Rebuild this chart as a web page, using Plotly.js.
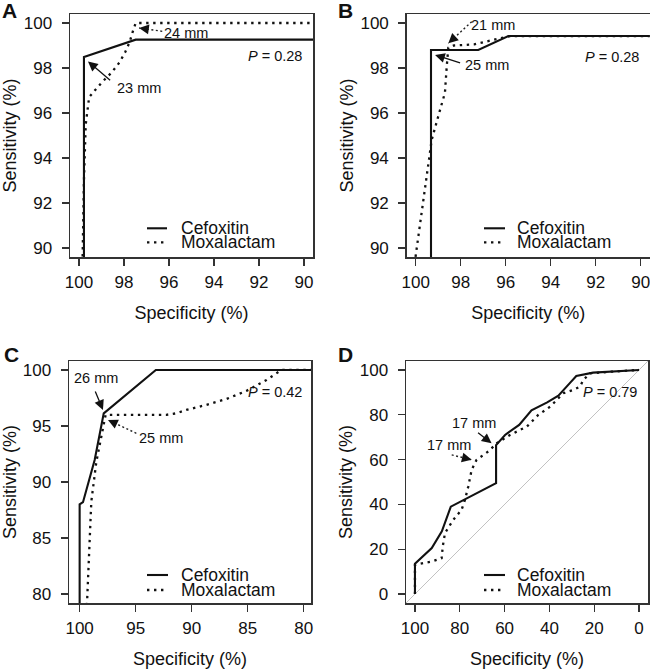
<!DOCTYPE html>
<html>
<head>
<meta charset="utf-8">
<script src="https://cdn.plot.ly/plotly-3.0.1.min.js"></script>
<style>html,body{margin:0;padding:0;background:#fff;}#chart{width:650px;height:671px;}</style>
</head>
<body>
<div id="chart"></div>
<script>
// ---------------- data ----------------
const seriesNames = ['Cefoxitin', 'Moxalactam'];
const panelLetters = ['A', 'B', 'C', 'D'];
const pValues = ['0.28', '0.28', '0.42', '0.79'];

const ticksAB = [90, 92, 94, 96, 98, 100];
const ticksC = [80, 85, 90, 95, 100];
const ticksD = [0, 20, 40, 60, 80, 100];

// Panel A
const specA_cef = [99.78, 99.78, 97.48, 89.0];
const sensA_cef = [89.0, 98.49, 99.26, 99.26];
const specA_mox = [99.85, 99.78, 99.7, 99.55, 99.3, 98.95, 98.55, 98.2, 97.95, 97.75, 97.6, 97.48, 89.0];
const sensA_mox = [89.0, 93.0, 95.5, 96.7, 97.0, 97.4, 97.8, 98.25, 98.7, 99.15, 99.65, 100, 100];

// Panel B
const specB_cef = [99.32, 99.32, 97.22, 95.88, 89.0];
const sensB_cef = [89.0, 98.8, 98.8, 99.42, 99.42];
const specB_mox = [100.05, 99.29, 98.92, 98.7, 98.62, 98.55, 98.3, 97.4, 96.25, 95.8, 89.0];
const sensB_mox = [89.3, 94.8, 96.13, 96.9, 98.08, 98.9, 99.0, 99.05, 99.32, 99.42, 99.42];

// Panel C
const specC_cef = [100, 100, 99.7, 98.66, 97.85, 93.2, 79.0];
const sensC_cef = [79.0, 88.0, 88.2, 91.96, 96.13, 100, 100];
const specC_mox = [99.35, 98.96, 98.51, 97.68, 92.26, 91.37, 90.48, 88.69, 86.9, 85.12, 83.33, 81.99, 79.0];
const sensC_mox = [79.0, 88.24, 91.8, 96.0, 96.0, 96.13, 96.43, 96.88, 97.41, 98.13, 99.1, 100, 100];

// Panel D
const specD_cef = [100, 100, 92.5, 88, 84, 63.8, 63.8, 59.8, 53.5, 48, 41, 36, 31, 28, 20.5, 12, 0];
const sensD_cef = [0, 13.5, 20.5, 28, 39, 49.5, 66.5, 71, 75.5, 82, 85.5, 88.5, 94, 97.3, 98.8, 99.3, 100];
const specD_mox = [100, 100, 96.3, 92.5, 88.1, 87.6, 86.6, 82.9, 79.2, 77.7, 76.2, 74.7, 72.5, 67.3, 63.5, 57.6, 50.1, 45, 39.7, 33.8, 29.3, 26.3, 24.9, 21.9, 11.5, 2.5, 0];
const sensD_mox = [0, 13, 13.8, 14.5, 16.0, 21.2, 27.2, 33.1, 37.6, 42, 48, 55.4, 59.9, 63.6, 67.3, 71, 74.7, 79.9, 83.6, 89.6, 91.1, 92.6, 95.5, 98.5, 99.3, 100, 100];
const diagSpec = [104, -4];
const diagSens = [-4, 104];

// cut-off labels
const cutoffLabels = ['24 mm', '23 mm', '21 mm', '25 mm', '26 mm', '25 mm', '17 mm', '17 mm'];

// ---------------- build ----------------
const W = 650, H = 671;
const FONT = 'Liberation Sans, Arial, Helvetica, sans-serif';
const INK = '#111';
const DOT = '2.4px,4.6px';

const panels = [
  {x: 'x',  y: 'y',  xr: [100.4, 89.6], yr: [89.6, 100.4], ticks: ticksAB, px: [70, 313],    py: [14, 257],  scale: 22.5},
  {x: 'x2', y: 'y2', xr: [100.4, 89.6], yr: [89.6, 100.4], ticks: ticksAB, px: [406.7, 649.7], py: [14, 257], scale: 22.5},
  {x: 'x3', y: 'y3', xr: [100.95, 79.35], yr: [79.2, 100.8], ticks: ticksC, px: [69, 311],   py: [361, 603], scale: 11.2},
  {x: 'x4', y: 'y4', xr: [104, -4], yr: [-4, 104], ticks: ticksD, px: [406, 648], py: [361, 603], scale: 2.24}
];

const curveData = [
  [[specA_cef, sensA_cef], [specA_mox, sensA_mox]],
  [[specB_cef, sensB_cef], [specB_mox, sensB_mox]],
  [[specC_cef, sensC_cef], [specC_mox, sensC_mox]],
  [[specD_cef, sensD_cef], [specD_mox, sensD_mox]]
];

const traces = [];
traces.push({type: 'scatter', mode: 'lines', x: diagSpec, y: diagSens, xaxis: 'x4', yaxis: 'y4',
  line: {color: '#c2c2c2', width: 1}, hoverinfo: 'skip', showlegend: false});
panels.forEach((p, i) => {
  curveData[i].forEach((c, k) => {
    traces.push({
      type: 'scatter', mode: 'lines', name: seriesNames[k],
      x: c[0], y: c[1], xaxis: p.x, yaxis: p.y,
      line: k === 0 ? {color: INK, width: 2.1} : {color: INK, width: 2.3, dash: DOT},
      hoverinfo: 'skip', showlegend: false
    });
  });
});

const layout = {
  width: W, height: H,
  margin: {l: 0, r: 0, t: 0, b: 0},
  paper_bgcolor: '#fff', plot_bgcolor: '#fff',
  font: {family: FONT, color: INK, size: 17},
  showlegend: false,
  annotations: [], shapes: []
};

panels.forEach((p, i) => {
  const sfx = i === 0 ? '' : String(i + 1);
  const common = {
    ticks: 'outside', ticklen: 7, tickwidth: 1.2, tickcolor: '#333',
    showline: true, mirror: true, linecolor: '#333', linewidth: 1.5,
    showgrid: false, zeroline: false, tickmode: 'array', tickvals: p.ticks,
    tickfont: {size: 17, color: INK, family: FONT}, fixedrange: true,
    ticklabeloverflow: 'allow'
  };
  layout['xaxis' + sfx] = Object.assign({}, common, {
    domain: [p.px[0] / W, p.px[1] / W], range: p.xr, anchor: p.y,
    ticklabelstandoff: 2,
    title: {text: 'Specificity (%)', font: {size: 18, color: INK, family: FONT}, standoff: 15}
  });
  layout['yaxis' + sfx] = Object.assign({}, common, {
    domain: [1 - p.py[1] / H, 1 - p.py[0] / H], range: p.yr, anchor: p.x,
    ticklabelstandoff: 6,
    title: {text: 'Sensitivity (%)', font: {size: 18, color: INK, family: FONT}, standoff: 2}
  });
});

// panel letters
const letterPos = [[9.5, 10], [345, 10], [11, 354], [345, 354]];
panelLetters.forEach((L, i) => {
  layout.annotations.push({text: '<b>' + L + '</b>', xref: 'paper', yref: 'paper',
    x: letterPos[i][0] / W, y: 1 - letterPos[i][1] / H, xanchor: 'center', yanchor: 'middle',
    showarrow: false, font: {size: 21, color: INK, family: FONT}});
});

// P values
const pPos = [[90, 98.52], [90, 98.5], [80, 98.06], [0, 90.3]];
panels.forEach((p, i) => {
  layout.annotations.push({text: '<i>P</i> = ' + pValues[i], xref: p.x, yref: p.y,
    x: pPos[i][0], y: pPos[i][1], xanchor: 'right', yanchor: 'middle', showarrow: false,
    font: {size: 14.5, color: INK, family: FONT}});
});

// cut-off labels & arrows: [panel, labelX, labelY, startX, startY, tipX, tipY, dotted]
const cut = [
  [0, 95.24, 99.56, 96.3, 99.63, 97.33, 99.78, true],
  [0, 97.35, 97.11, 98.55, 97.4, 99.6, 98.29, false],
  [1, 96.55, 99.91, 97.51, 100.06, 98.55, 99.1, true],
  [1, 96.84, 98.13, 97.96, 98.21, 99.14, 98.58, false],
  [2, 98.51, 99.26, 98.66, 98.21, 97.92, 96.43, false],
  [2, 92.7, 93.9, 94.94, 94.35, 97.47, 95.54, true],
  [3, 73.5, 76.2, 72.5, 72.5, 65.8, 67.3, false],
  [3, 84.8, 66.6, 83.6, 62.1, 74.7, 59.9, true]
];
cut.forEach((c, j) => {
  const p = panels[c[0]];
  layout.annotations.push({text: cutoffLabels[j], xref: p.x, yref: p.y, x: c[1], y: c[2],
    xanchor: 'center', yanchor: 'middle', showarrow: false,
    font: {size: 14.5, color: INK, family: FONT}});
  if (!c[7]) {
    layout.annotations.push({text: '', xref: p.x, yref: p.y, axref: p.x, ayref: p.y,
      x: c[5], y: c[6], ax: c[3], ay: c[4], showarrow: true, arrowhead: 2, arrowsize: 1.5,
      arrowwidth: 1.3, arrowcolor: INK, standoff: 0, startstandoff: 0});
  } else {
    layout.shapes.push({type: 'line', xref: p.x, yref: p.y, x0: c[3], y0: c[4], x1: c[5], y1: c[6],
      line: {color: '#222', width: 1.4, dash: '2px,2.5px'}});
    const dxp = -(c[3] - c[5]) * p.scale;
    const dyp = -(c[4] - c[6]) * p.scale;
    const len = Math.sqrt(dxp * dxp + dyp * dyp);
    layout.annotations.push({text: '', xref: p.x, yref: p.y, x: c[5], y: c[6],
      ax: dxp / len * 9, ay: dyp / len * 9, showarrow: true, arrowhead: 2, arrowsize: 1.5,
      arrowwidth: 1.3, arrowcolor: INK, standoff: 0, startstandoff: 0});
  }
});

// legends (drawn inside each panel): one text block, tight line spacing as in the reference
const legendPos = [
  {x0: 147, x1: 167, tx: 179, y: [228.3, 242.3]},
  {x0: 484, x1: 505, tx: 515, y: [228.3, 242.3]},
  {x0: 147, x1: 168, tx: 179, y: [575, 590]},
  {x0: 484, x1: 505, tx: 515, y: [575, 590]}
];
legendPos.forEach(lp => {
  seriesNames.forEach((nm, k) => {
    layout.shapes.push({type: 'line', xref: 'paper', yref: 'paper',
      x0: lp.x0 / W, x1: lp.x1 / W, y0: 1 - lp.y[k] / H, y1: 1 - lp.y[k] / H,
      line: k === 0 ? {color: INK, width: 2.1} : {color: INK, width: 2.3, dash: DOT}});
  });
  const gap = lp.y[1] - lp.y[0];
  const txt = seriesNames.map(nm => '<span style="font-size:17.5px">' + nm + '</span>').join('<br>');
  layout.annotations.push({text: txt, xref: 'paper', yref: 'paper', x: lp.tx / W,
    y: 1 - (lp.y[0] + lp.y[1]) / 2 / H, xanchor: 'left', yanchor: 'middle', align: 'left',
    showarrow: false, font: {size: gap / 1.3, color: INK, family: FONT}});
});

Plotly.newPlot('chart', traces, layout, {displayModeBar: false, staticPlot: true});
</script>
</body>
</html>
